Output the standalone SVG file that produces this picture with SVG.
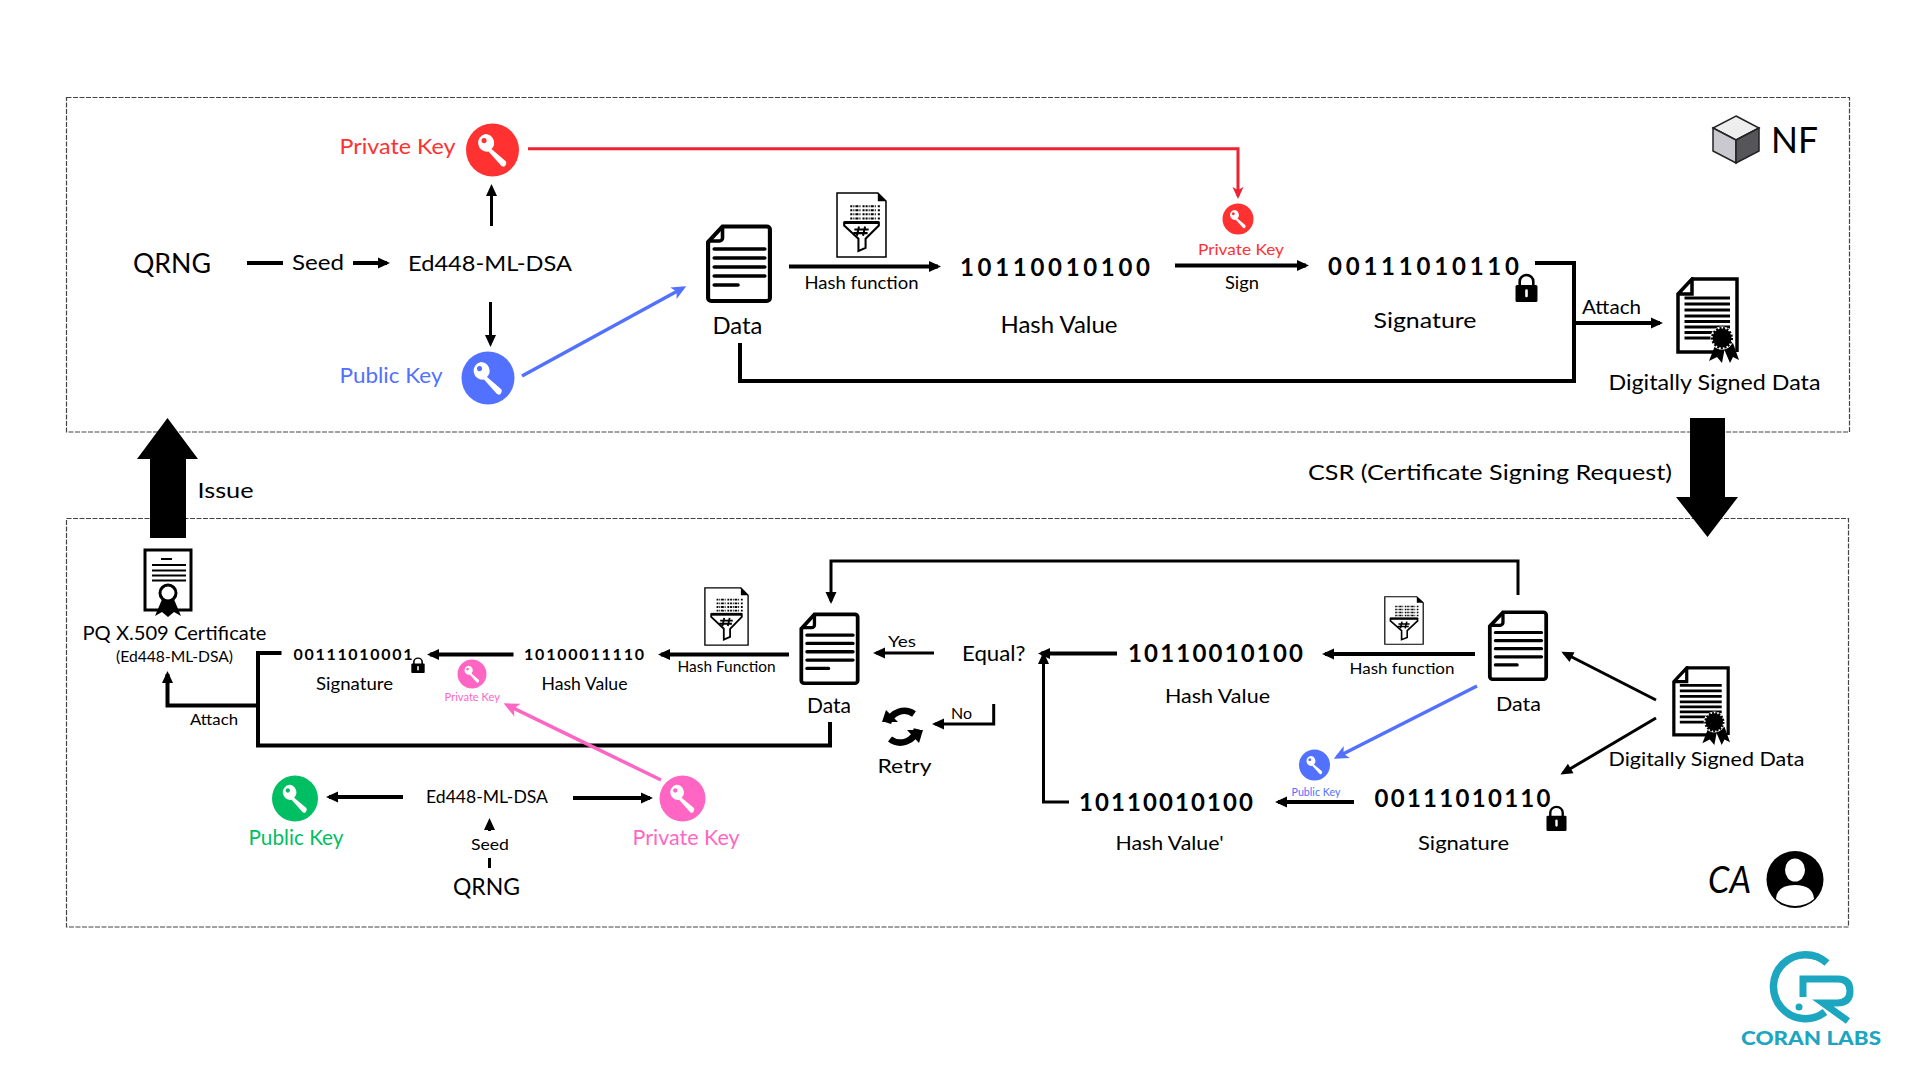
<svg xmlns="http://www.w3.org/2000/svg" xmlns:xlink="http://www.w3.org/1999/xlink" width="1920" height="1080" viewBox="0 0 1920 1080">
<style>
text{font-family:"Lato","Open Sans","Liberation Sans",sans-serif;fill:#000}
.bin{font-weight:700;letter-spacing:2px}
.red{fill:#ff3131}.blue{fill:#5271ff}.pink{fill:#ff66c4}.green{fill:#00bf63}
.c{fill:none;stroke:#000;stroke-width:4}
.t{stroke-width:3}
.box{fill:none;stroke:#444;stroke-width:1.2;stroke-dasharray:5 1.5}
.big{fill:#000}
</style>
<defs>
<marker id="ak" markerUnits="userSpaceOnUse" markerWidth="14" markerHeight="14" viewBox="0 0 14 14" refX="10" refY="7" orient="auto"><path d="M1 1.5L13 7L1 12.5z" fill="#000"/></marker>
<marker id="ar" markerUnits="userSpaceOnUse" markerWidth="14" markerHeight="14" viewBox="0 0 14 14" refX="10" refY="7" orient="auto"><path d="M1 1.5L13 7L1 12.5L4 7z" fill="#ee2233"/></marker>
<marker id="ab" markerUnits="userSpaceOnUse" markerWidth="17" markerHeight="17" viewBox="0 0 14 14" refX="10" refY="7" orient="auto"><path d="M1 1.5L13 7L1 12.5L4 7z" fill="#5271ff"/></marker>
<marker id="ap" markerUnits="userSpaceOnUse" markerWidth="18" markerHeight="18" viewBox="0 0 14 14" refX="10" refY="7" orient="auto"><path d="M1 1.5L13 7L1 12.5L4 7z" fill="#ff66c4"/></marker>
<symbol id="key" viewBox="-27 -27 54 54" overflow="visible">
<path d="M-7 -16a8.800 8.800 0 0 1 6 15L13 11c1.500 1.500 .5 4-.5 5s-3 1-4-.5L-4 1.500A8.800 8.800 0 0 1 -7 -16zM-8.500 -12a2.600 2.600 0 1 0 .1 0z" fill="#fff" fill-rule="evenodd"/>
</symbol>
<symbol id="doc" viewBox="0 0 66 80" preserveAspectRatio="none">
<path d="M17 2.500H60a3 3 0 0 1 3 3V74a3 3 0 0 1-3 3H6a3 3 0 0 1-3-3V18z" fill="#fff" stroke="#000" stroke-width="4"/>
<path d="M17 2.500V14a3 3 0 0 1-3 3H3" fill="none" stroke="#000" stroke-width="3.500"/>
<path d="M9 25H58M9 34H58M9 43H58M9 52H58M9 61H32" stroke="#000" stroke-width="3.600" stroke-linecap="round"/>
</symbol>
<symbol id="hash" viewBox="0 0 50 65" preserveAspectRatio="none">
<path d="M1 1H41L49 9V64H1z" fill="#fff" stroke="#000" stroke-width="1.500"/>
<path d="M41 1V9H49z" fill="#000"/>
<path d="M14 14H44M14 18H44M14 22H44M14 26H44" stroke="#000" stroke-width="2" stroke-dasharray="2 1 1 1 3 1 1 2 2 1"/>
<path d="M8 30H42V33L29 46V55L22 58V46L8 33z" fill="#fff" stroke="#000" stroke-width="2"/>
<path d="M8 30H42" stroke="#000" stroke-width="3"/>
<path d="M22.500 34L20.500 43M28.500 34L26.500 43M18 37H32M17 40.500H31" stroke="#000" stroke-width="2"/>
</symbol>
<symbol id="sdoc" viewBox="0 0 63 86" preserveAspectRatio="none">
<path d="M16 2H61V75" fill="none" stroke="#000" stroke-width="3.500"/>
<path d="M40 75H2V17L16 2V17H2" fill="none" stroke="#000" stroke-width="3.500"/>
<path d="M8.500 21H54M8.500 27H54M8.500 33H54M8.500 39H54M8.500 44.500H54M8.500 50H54M8.500 55.500H38M8.500 61H35" stroke="#000" stroke-width="3"/>
<path d="M40 66L33 84L41 80L46 86L49 70zM51 70L48 72L54 86L57 80L63 83L57 66z" fill="#000"/>
<circle cx="46" cy="61" r="11.500" fill="#fff"/>
<circle cx="46" cy="61" r="9.500" fill="#000" stroke="#000" stroke-width="3" stroke-dasharray="2 1.500"/>
</symbol>
<symbol id="lock" viewBox="0 0 22 29" preserveAspectRatio="none">
<path d="M4.500 13V8.500a6.500 6.500 0 0 1 13 0V13" fill="none" stroke="#000" stroke-width="2.500"/>
<rect x="0.500" y="12" width="21" height="17" rx="1.500" fill="#000"/>
<path d="M11 17.500V23" stroke="#fff" stroke-width="2.500" stroke-linecap="round"/>
</symbol>
</defs>
<rect width="1920" height="1080" fill="#fff"/>

<rect class="box" x="66.500" y="97.500" width="1783" height="334.500"/>
<rect class="box" x="66.500" y="518.500" width="1782" height="408.500"/>

<g id="connectors">
<path class="c t" d="M491.500 226V187" marker-end="url(#ak)"/>
<path class="c t" d="M490.500 302V344" marker-end="url(#ak)"/>
<path d="M247 263H283" class="c"/>
<path d="M353 263H387" class="c" marker-end="url(#ak)"/>
<path d="M528 148.700H1238V196" fill="none" stroke="#ee2233" stroke-width="3" marker-end="url(#ar)"/>
<path d="M522 376L683 288" fill="none" stroke="#5271ff" stroke-width="3.500" marker-end="url(#ab)"/>
<path d="M789 266.500H938" class="c" marker-end="url(#ak)"/>
<path d="M1175 265.500H1306" class="c" marker-end="url(#ak)"/>
<path d="M740 343V381H1574V263H1535" class="c"/>
<path d="M1574 323H1660" class="c" marker-end="url(#ak)"/>
<path d="M281.500 653H258V745.500H830V722" class="c"/>
<path d="M258 705.500H167.500V674" class="c" marker-end="url(#ak)"/>
<path d="M513.500 654.500H430" class="c" marker-end="url(#ak)"/>
<path d="M789 654.500H661" class="c" marker-end="url(#ak)"/>
<path d="M1518 595V561H831V601" class="c t" marker-end="url(#ak)"/>
<path d="M934 653H876" class="c t" marker-end="url(#ak)"/>
<path d="M993.700 704V724H935" class="c t" marker-end="url(#ak)"/>
<path d="M1117 653.500H1041" class="c" marker-end="url(#ak)"/>
<path d="M1069 802H1043.500V655" class="c t" marker-end="url(#ak)"/>
<path d="M1475 654H1325" class="c" marker-end="url(#ak)"/>
<path d="M1354 802H1278" class="c" marker-end="url(#ak)"/>
<path d="M1477 686L1337 757" fill="none" stroke="#5271ff" stroke-width="3.500" marker-end="url(#ab)"/>
<path d="M1656 700L1564 653" class="c t" marker-end="url(#ak)"/>
<path d="M1656 718L1563 773" class="c t" marker-end="url(#ak)"/>
<path d="M661 780L507 705" fill="none" stroke="#ff66c4" stroke-width="3.500" marker-end="url(#ap)"/>
<path d="M403 797H329" class="c" marker-end="url(#ak)"/>
<path d="M573 798H650" class="c" marker-end="url(#ak)"/>
<path d="M489.500 868V858" class="c t"/>
<path d="M489.500 831V821" class="c t" marker-end="url(#ak)"/>
<path class="big" d="M1690 418H1725V497H1738L1707.500 537L1676 497H1690z"/>
<path class="big" d="M150 538V459H137L167.500 418L198 459H186V538z"/>
</g>

<g id="nf-label">
<path d="M1736 116L1759 128L1736 140L1713 128z" fill="#eeeeee" stroke="#222" stroke-width="1.500"/>
<path d="M1713 128L1736 140V163L1713 151z" fill="#c9c9cf" stroke="#222" stroke-width="1.500"/>
<path d="M1736 140L1759 128V151L1736 163z" fill="#55555a" stroke="#222" stroke-width="1.500"/>
<text x="1771" y="153" font-size="37" textLength="47" lengthAdjust="spacingAndGlyphs">NF</text>
</g>

<g id="nf-qrng"><text x="133" y="273" font-size="27" textLength="78" lengthAdjust="spacingAndGlyphs">QRNG</text></g>
<g id="nf-seed"><text x="292" y="270" font-size="22" textLength="52" lengthAdjust="spacingAndGlyphs">Seed</text></g>
<g id="nf-algo"><text x="408" y="271" font-size="22" textLength="164" lengthAdjust="spacingAndGlyphs">Ed448-ML-DSA</text></g>

<g id="nf-private-key">
<circle cx="492.500" cy="150" r="26.500" fill="#ff3131"/>
<use href="#key" x="465.500" y="123" width="54" height="54"/>
<text class="red" x="339.500" y="154" font-size="22" textLength="116" lengthAdjust="spacingAndGlyphs">Private Key</text>
</g>
<g id="nf-public-key">
<circle cx="488" cy="378" r="26.500" fill="#5271ff"/>
<use href="#key" x="461" y="351" width="54" height="54"/>
<text class="blue" x="339.500" y="383" font-size="22" textLength="103" lengthAdjust="spacingAndGlyphs">Public Key</text>
</g>
<g id="nf-data">
<use href="#doc" x="705" y="224" width="68" height="80"/>
<text x="712.500" y="333.500" font-size="23" textLength="50" lengthAdjust="spacingAndGlyphs">Data</text>
</g>
<g id="nf-hash-fn">
<use href="#hash" x="836" y="192" width="51" height="66"/>
<text x="804.500" y="289" font-size="17" textLength="114" lengthAdjust="spacingAndGlyphs">Hash function</text>
</g>
<g id="nf-hash-value">
<text class="bin" x="960" y="276" font-size="24" textLength="192" lengthAdjust="spacing">10110010100</text>
<text x="1000.500" y="333" font-size="23" textLength="117" lengthAdjust="spacingAndGlyphs">Hash Value</text>
</g>
<g id="nf-sign">
<circle cx="1238" cy="219" r="15.500" fill="#ff3131"/>
<use href="#key" x="1223" y="204" width="30" height="30"/>
<text class="red" x="1198" y="255" font-size="16" textLength="86" lengthAdjust="spacingAndGlyphs">Private Key</text>
<text x="1225" y="289" font-size="17" textLength="34" lengthAdjust="spacingAndGlyphs">Sign</text>
</g>
<g id="nf-signature">
<text class="bin" x="1328" y="275" font-size="24" textLength="193" lengthAdjust="spacing">00111010110</text>
<use href="#lock" x="1515" y="273" width="23" height="29"/>
<text x="1373.500" y="328" font-size="22" textLength="103" lengthAdjust="spacingAndGlyphs">Signature</text>
</g>
<g id="nf-attach"><text x="1582" y="314" font-size="19" textLength="59" lengthAdjust="spacingAndGlyphs">Attach</text></g>
<g id="nf-signed-data">
<use href="#sdoc" x="1676" y="277" width="63" height="86"/>
<text x="1608.500" y="390" font-size="21" textLength="212" lengthAdjust="spacingAndGlyphs">Digitally Signed Data</text>
</g>
<g id="csr-label"><text x="1308" y="480" font-size="22" textLength="364" lengthAdjust="spacingAndGlyphs">CSR (Certificate Signing Request)</text></g>
<g id="issue-label"><text x="197.500" y="498" font-size="21" textLength="56" lengthAdjust="spacingAndGlyphs">Issue</text></g>

<g id="ca-cert">
<rect x="145" y="550" width="46" height="60" fill="#fff" stroke="#000" stroke-width="3"/>
<path d="M161 559H172M152 565H186M152 570.500H186M152 575.500H186M152 580.500H186" stroke="#000" stroke-width="2"/>
<path d="M163 597L155 616L162 612L168 617L174 612L181 616L173 597z" fill="#000"/>
<ellipse cx="168" cy="593" rx="8" ry="8" fill="#fff" stroke="#000" stroke-width="3"/>
<text x="82.500" y="640" font-size="19" textLength="184" lengthAdjust="spacingAndGlyphs">PQ X.509 Certificate</text>
<text x="116" y="662" font-size="14.500" textLength="117" lengthAdjust="spacingAndGlyphs">(Ed448-ML-DSA)</text>
</g>
<g id="ca-attach"><text x="190" y="725" font-size="15" textLength="48" lengthAdjust="spacingAndGlyphs">Attach</text></g>
<g id="ca-signature">
<text class="bin" x="293.500" y="660" font-size="16" textLength="121" lengthAdjust="spacing">00111010001</text>
<use href="#lock" x="411" y="657" width="14" height="16"/>
<text x="316" y="690" font-size="18" textLength="77" lengthAdjust="spacingAndGlyphs">Signature</text>
</g>
<g id="ca-sign-key">
<circle cx="472" cy="674" r="14.500" fill="#ff66c4"/>
<use href="#key" x="458" y="660" width="28" height="28"/>
<text class="pink" x="444.500" y="701" font-size="11" textLength="55.500" lengthAdjust="spacingAndGlyphs">Private Key</text>
</g>
<g id="ca-hash-value">
<text class="bin" x="524" y="660" font-size="16" textLength="122" lengthAdjust="spacing">10100011110</text>
<text x="541.500" y="690" font-size="18" textLength="86" lengthAdjust="spacingAndGlyphs">Hash Value</text>
</g>
<g id="ca-hash-fn">
<use href="#hash" x="704" y="587" width="45" height="59"/>
<text x="677.500" y="672" font-size="15" textLength="98" lengthAdjust="spacingAndGlyphs">Hash Function</text>
</g>
<g id="ca-data-left">
<use href="#doc" x="798.500" y="612" width="62" height="74"/>
<text x="807" y="713" font-size="21" textLength="44" lengthAdjust="spacingAndGlyphs">Data</text>
</g>
<g id="ca-yes"><text x="888" y="647" font-size="15" textLength="28" lengthAdjust="spacingAndGlyphs">Yes</text></g>
<g id="ca-equal"><text x="962" y="661" font-size="21" textLength="63.500" lengthAdjust="spacingAndGlyphs">Equal?</text></g>
<g id="ca-no"><text x="951" y="719" font-size="15" textLength="21" lengthAdjust="spacingAndGlyphs">No</text></g>
<g id="ca-retry">
<path d="M888 723A17 17 0 0 1 914 714" fill="none" stroke="#000" stroke-width="6.500"/>
<path d="M882 722L898 722L886 710z" fill="#000"/>
<path d="M917 729A17 17 0 0 1 890 739" fill="none" stroke="#000" stroke-width="6.500"/>
<path d="M923 730L907 730L919 743z" fill="#000"/>
<text x="877.500" y="773" font-size="20" textLength="54" lengthAdjust="spacingAndGlyphs">Retry</text>
</g>
<g id="ca-algo"><text x="426" y="803" font-size="18" textLength="122" lengthAdjust="spacingAndGlyphs">Ed448-ML-DSA</text></g>
<g id="ca-seed"><text x="471" y="850" font-size="16" textLength="38" lengthAdjust="spacingAndGlyphs">Seed</text></g>
<g id="ca-qrng"><text x="453" y="895" font-size="24" textLength="67" lengthAdjust="spacingAndGlyphs">QRNG</text></g>
<g id="ca-public-key">
<circle cx="295" cy="798.500" r="23" fill="#00bf63"/>
<use href="#key" x="272" y="775.500" width="46" height="46"/>
<text class="green" x="248.500" y="845" font-size="21" textLength="95" lengthAdjust="spacingAndGlyphs">Public Key</text>
</g>
<g id="ca-private-key">
<circle cx="682.500" cy="798.500" r="23" fill="#ff66c4"/>
<use href="#key" x="659.500" y="775.500" width="46" height="46"/>
<text class="pink" x="632.500" y="845" font-size="21" textLength="107" lengthAdjust="spacingAndGlyphs">Private Key</text>
</g>
<g id="ca-hash-right">
<text class="bin" x="1128" y="662" font-size="24" textLength="177" lengthAdjust="spacing">10110010100</text>
<text x="1165" y="703" font-size="20" textLength="105" lengthAdjust="spacingAndGlyphs">Hash Value</text>
</g>
<g id="ca-hash-prime">
<text class="bin" x="1079" y="811" font-size="24" textLength="176" lengthAdjust="spacing">10110010100</text>
<text x="1115.500" y="850" font-size="20" textLength="108" lengthAdjust="spacingAndGlyphs">Hash Value'</text>
</g>
<g id="ca-hash-fn-right">
<use href="#hash" x="1384" y="596" width="40" height="49"/>
<text x="1349.500" y="674" font-size="16" textLength="105" lengthAdjust="spacingAndGlyphs">Hash function</text>
</g>
<g id="ca-data-right">
<use href="#doc" x="1487" y="610" width="62" height="72"/>
<text x="1496" y="711" font-size="20" textLength="45" lengthAdjust="spacingAndGlyphs">Data</text>
</g>
<g id="ca-verify-key">
<circle cx="1314.500" cy="765" r="15.500" fill="#5271ff"/>
<use href="#key" x="1299.500" y="750" width="30" height="30"/>
<text class="blue" x="1291.500" y="796" font-size="11" textLength="49" lengthAdjust="spacingAndGlyphs">Public Key</text>
</g>
<g id="ca-signature-right">
<text class="bin" x="1374.500" y="807" font-size="24" textLength="178" lengthAdjust="spacing">00111010110</text>
<use href="#lock" x="1546" y="805" width="21" height="26"/>
<text x="1418" y="850" font-size="19" textLength="91" lengthAdjust="spacingAndGlyphs">Signature</text>
</g>
<g id="ca-signed-data">
<use href="#sdoc" x="1672" y="666" width="58" height="79"/>
<text x="1608.500" y="766" font-size="20" textLength="196" lengthAdjust="spacingAndGlyphs">Digitally Signed Data</text>
</g>
<g id="ca-label">
<text x="1708" y="893" font-size="37" font-style="italic" textLength="43" lengthAdjust="spacingAndGlyphs">CA</text>
<circle cx="1795" cy="879.500" r="28.500" fill="#000"/>
<ellipse cx="1795" cy="870" rx="10" ry="11.500" fill="#fff"/>
<path d="M1776 899Q1777 885 1795 885Q1813 885 1814 899Q1806 906 1795 906Q1784 906 1776 899z" fill="#fff"/>
</g>
<g id="logo">
<path d="M1827 963A32 32 0 1 0 1825 1012" fill="none" stroke="#1ca6c0" stroke-width="7.500"/>
<path d="M1803 997V979H1838Q1850 979 1850 991Q1850 1003 1837 1003H1823L1848 1021" fill="none" stroke="#1ca6c0" stroke-width="7"/>
<circle cx="1799" cy="1007" r="3.500" fill="#1ca6c0"/>
<text x="1741" y="1045" font-size="19" font-weight="900" style="fill:#1ca6c0" textLength="140" lengthAdjust="spacingAndGlyphs">CORAN LABS</text>
</g>
</svg>
